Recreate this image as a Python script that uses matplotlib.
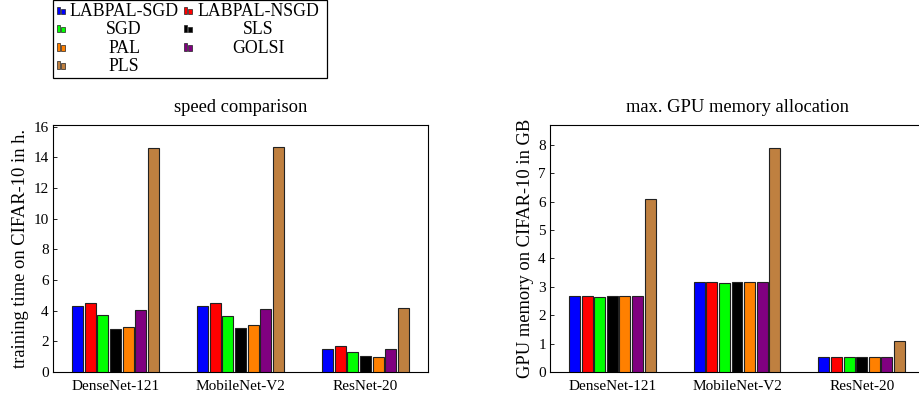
import matplotlib
matplotlib.use("Agg")
import numpy as np
import matplotlib.pyplot as plt
from matplotlib.patches import Rectangle

plt.rcParams['font.family'] = ['Liberation Serif', 'DejaVu Serif']

networks = ['DenseNet-121', 'MobileNet-V2', 'ResNet-20']
methods = ['LABPAL-SGD', 'LABPAL-NSGD', 'SGD', 'SLS', 'PAL', 'GOLSI', 'PLS']
colors = ['#0000ff', '#ff0000', '#00ff00', '#000000', '#ff8000', '#800080', '#bf8040']

# training time in hours, one row per method, one column per network
train_time = [
    [4.28, 4.28, 1.52],   # LABPAL-SGD
    [4.49, 4.49, 1.67],   # LABPAL-NSGD
    [3.73, 3.65, 1.28],   # SGD
    [2.82, 2.87, 1.02],   # SLS
    [2.91, 3.06, 1.00],   # PAL
    [4.06, 4.08, 1.50],   # GOLSI
    [14.59, 14.68, 4.19], # PLS
]

# max GPU memory in GB
gpu_mem = [
    [2.68, 3.18, 0.54],
    [2.68, 3.18, 0.54],
    [2.64, 3.15, 0.54],
    [2.69, 3.18, 0.54],
    [2.66, 3.17, 0.54],
    [2.69, 3.18, 0.54],
    [6.10, 7.90, 1.10],
]

W, H = 920, 401
fig = plt.figure(figsize=(W / 100, H / 100), dpi=100)

ax1 = fig.add_axes([53 / W, 1 - 372 / H, 375 / W, 247 / H])
ax2 = fig.add_axes([550 / W, 1 - 372 / H, 374 / W, 247 / H])

x = np.arange(len(networks))
step = 0.101
bw = 0.088


def draw(ax, data, ylim, yticks, title, ylabel):
    for i, (vals, c) in enumerate(zip(data, colors)):
        off = (i - 3) * step
        ax.bar(x + off, vals, width=bw, color=c, edgecolor='#222222',
               linewidth=0.8, zorder=3)
    ax.set_xlim(-0.5, 2.5)
    ax.set_ylim(*ylim)
    ax.set_xticks(x)
    ax.set_xticklabels(networks, fontsize=11)
    ax.set_yticks(yticks)
    ax.tick_params(axis='y', labelsize=11, direction='in', length=3,
                   width=0.6, pad=3)
    ax.tick_params(axis='x', direction='in', length=0, pad=6)
    for s in ax.spines.values():
        s.set_linewidth(0.8)
    ax.set_title(title, fontsize=13.3, pad=9)
    ax.set_ylabel(ylabel, fontsize=13.3, labelpad=3)


draw(ax1, train_time, (0, 16.1), range(0, 17, 2), 'speed comparison',
     'training time on CIFAR-10 in h.')
draw(ax2, gpu_mem, (0, 8.7), range(0, 9), 'max. GPU memory allocation',
     'GPU memory on CIFAR-10 in GB')


# pgfplots-style legend: two columns filled row by row, labels centred
def px(xp, yp):
    return xp / W, 1 - yp / H


box_x0, box_x1, box_y1 = 53, 327, 78
fig.add_artist(Rectangle(px(box_x0, box_y1), (box_x1 - box_x0) / W, box_y1 / H,
                         facecolor='white', edgecolor='black', linewidth=0.9,
                         transform=fig.transFigure))
icon_x = [57, 184]
text_cx = [124, 258]
row_h = 18.3
for i, (name, c) in enumerate(zip(methods, colors)):
    col, row = i % 2, i // 2
    yc = 11.5 + row * row_h
    x0 = icon_x[col]
    # two little bars as the legend image
    for dx, h, w in [(0, 7.5, 3), (4.2, 5.5, 3.5)]:
        fig.add_artist(Rectangle(px(x0 + dx, yc + 2.5), w / W, h / H,
                                 facecolor=c, edgecolor='#222222', linewidth=0.5,
                                 transform=fig.transFigure))
    fig.text(*px(text_cx[col], yc), name, ha='center', va='center',
             fontsize=12.8)

fig.savefig('out.png', dpi=100)
